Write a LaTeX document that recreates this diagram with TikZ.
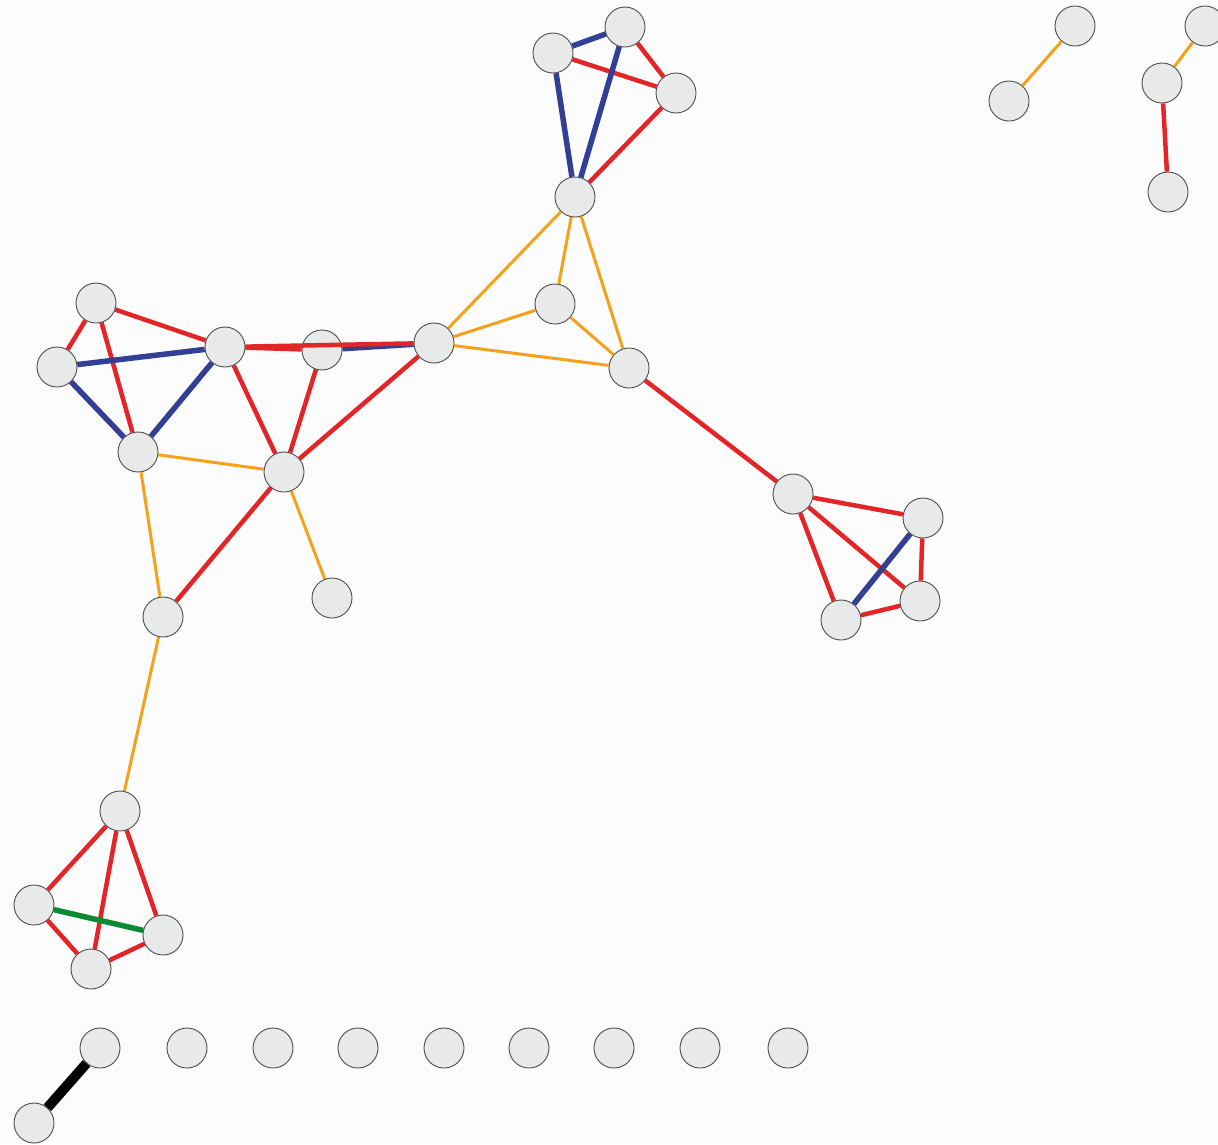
\documentclass[tikz,border=0pt]{standalone}
\definecolor{nodegray}{HTML}{E8EAE9}
\definecolor{edgered}{HTML}{E42528}
\definecolor{edgeblue}{HTML}{323F94}
\definecolor{edgeorange}{HTML}{F4A21C}
\definecolor{edgegreen}{HTML}{0B8A34}
\begin{document}
\begin{tikzpicture}[x=1pt, y=-1pt,
    vertex/.style={circle, draw=black!70, fill=nodegray, line width=0.9pt, minimum size=40pt, inner sep=0pt},
    redge/.style={draw=edgered, line width=4.5pt},
    bedge/.style={draw=edgeblue, line width=5.5pt},
    oedge/.style={draw=edgeorange, line width=3pt},
    gedge/.style={draw=edgegreen, line width=5.5pt},
    kedge/.style={draw=black, line width=10pt}]
    \fill[white!99!black] (0,0) rectangle (1218,1144);
    \clip (0,0) rectangle (1218,1144);
    % top cluster
    \node[vertex] (a1) at (553,53) {};
    \node[vertex] (a2) at (625,27) {};
    \node[vertex] (a3) at (676,93) {};
    \node[vertex] (a4) at (575,197) {};
    % middle triangle
    \node[vertex] (b1) at (555,304) {};
    \node[vertex] (b2) at (434,343) {};
    \node[vertex] (b3) at (629,368) {};
    % right cluster
    \node[vertex] (c1) at (793,494) {};
    \node[vertex] (c2) at (923,518) {};
    \node[vertex] (c3) at (920,601) {};
    \node[vertex] (c4) at (841,620) {};
    % left cluster
    \node[vertex] (d1) at (96,303) {};
    \node[vertex] (d2) at (57,367) {};
    \node[vertex] (d3) at (225,347) {};
    \node[vertex] (d4) at (322,350) {};
    \node[vertex] (d5) at (138,452) {};
    \node[vertex] (d6) at (284,472) {};
    \node[vertex] (e1) at (163,617) {};
    \node[vertex] (e2) at (332,598) {};
    % bottom left cluster
    \node[vertex] (f1) at (120,811) {};
    \node[vertex] (f2) at (34,905) {};
    \node[vertex] (f3) at (163,935) {};
    \node[vertex] (f4) at (91,969) {};
    % small pieces, top right
    \node[vertex] (g1) at (1075,26) {};
    \node[vertex] (g2) at (1009,101) {};
    \node[vertex] (h1) at (1205,26) {};
    \node[vertex] (h2) at (1162,83) {};
    \node[vertex] (h3) at (1168,192) {};
    % bottom row
    \node[vertex] (k0) at (34,1123) {};
    \node[vertex] (k1) at (100,1048) {};
    \foreach \x [count=\i from 2] in {187,273,358,444,529,614,700,788} {
      \node[vertex] (k\i) at (\x,1048) {};
    }
    % edges
    \draw[bedge] (a1) -- (a2);
    \draw[redge] (a2) -- (a3);
    \draw[redge] (a1) -- (a3);
    \draw[bedge] (a1) -- (a4);
    \draw[bedge] (a2) -- (a4);
    \draw[redge] (a3) -- (a4);
    \draw[oedge] (a4) -- (b1);
    \draw[oedge] (a4) -- (b2);
    \draw[oedge] (a4) -- (b3);
    \draw[oedge] (b1) -- (b2);
    \draw[oedge] (b1) -- (b3);
    \draw[oedge] (b2) -- (b3);
    \draw[redge] (b3) -- (c1);
    \draw[redge] (c1) -- (c2);
    \draw[redge] (c1) -- (c3);
    \draw[redge] (c1) -- (c4);
    \draw[redge] (c2) -- (c3);
    \draw[redge] (c3) -- (c4);
    \draw[bedge] (c2) -- (c4);
    \draw[redge] (d1) -- (d2);
    \draw[redge] (d1) -- (d3);
    \draw[redge] (d1) -- (d5);
    \draw[bedge] (d2) -- (d3);
    \draw[bedge] (d2) -- (d5);
    \draw[bedge] (d3) -- (d5);
    \draw[redge] (d3) -- (d6);
    \draw[redge] (d4) -- (d6);
    \draw[redge] (d3) -- (d4);
    \draw[bedge] (d4) -- (b2);
    \draw[redge] (d3) -- (b2);
    \draw[redge] (d6) -- (b2);
    \draw[oedge] (d5) -- (d6);
    \draw[oedge] (d5) -- (e1);
    \draw[redge] (d6) -- (e1);
    \draw[oedge] (d6) -- (e2);
    \draw[oedge] (e1) -- (f1);
    \draw[redge] (f1) -- (f2);
    \draw[redge] (f1) -- (f3);
    \draw[redge] (f1) -- (f4);
    \draw[redge] (f2) -- (f4);
    \draw[redge] (f3) -- (f4);
    \draw[gedge] (f2) -- (f3);
    \draw[oedge] (g1) -- (g2);
    \draw[oedge] (h1) -- (h2);
    \draw[redge] (h2) -- (h3);
    \draw[kedge] (k0) -- (k1);
  \end{tikzpicture}
\end{document}
